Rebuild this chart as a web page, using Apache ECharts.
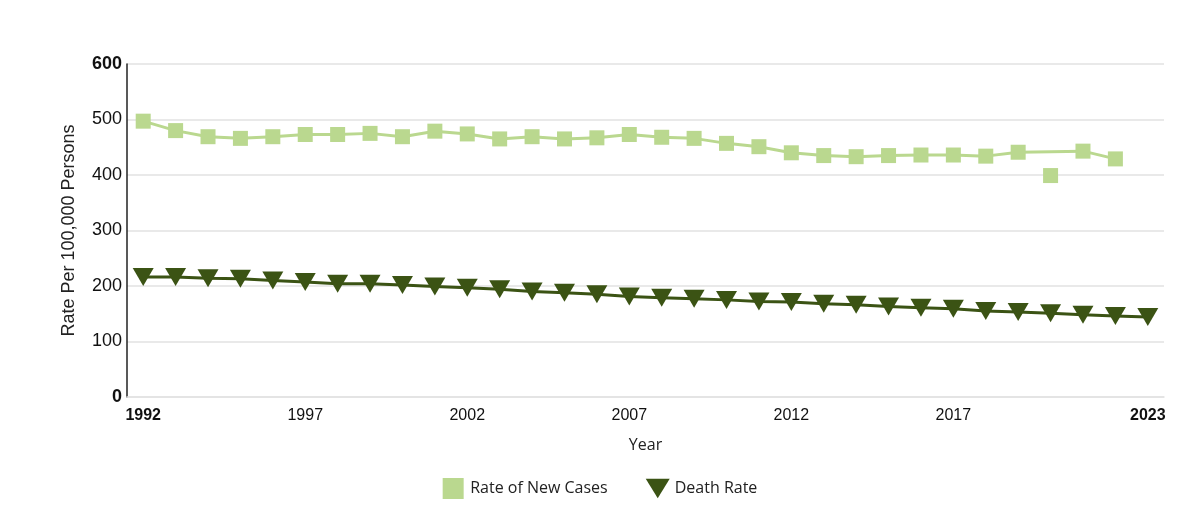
<!DOCTYPE html>
<html>
<head>
<meta charset="utf-8">
<script src="https://cdn.jsdelivr.net/npm/echarts@6/dist/echarts.min.js"></script>
<style>
  html, body { margin: 0; padding: 0; background: #fff; }
  #chart { width: 1200px; height: 521px; }
</style>
</head>
<body>
<div id="chart"></div>
<script>
var years = [];
for (var y = 1992; y <= 2023; y++) years.push(String(y));

// rate of new cases, 2020 is drawn apart (not joined by the line)
var newCases = [497, 480, 469, 466, 469, 473, 473, 475, 469, 479, 474, 465, 469, 465, 467,
                473, 468, 466, 457, 451, 440, 435, 433, 435, 436, 436, 434, 441, null, 443, 429, null];
var newCases2020 = 399;
var deathRate = [216, 216, 214, 213, 210, 207, 204, 204, 202, 199, 197, 194, 190, 188, 185,
                 181, 179, 177, 175, 172, 171, 168, 166, 163, 161, 159, 155, 153, 151, 148, 146, 144];
var yTicks = [0, 100, 200, 300, 400, 500, 600];

var lightGreen = '#bad88f';
var darkGreen = '#3b5314';
var arial = 'Liberation Sans, Arial, sans-serif';

var gap = years.map(function (yr) { return yr === '2020' ? newCases2020 : null; });

var myChart = echarts.init(document.getElementById('chart'));
var option = {
    animation: false,
    textStyle: { fontFamily: arial },
    grid: { left: 127, right: 36, top: 64, bottom: 124 },
    legend: {
        bottom: 17,
        left: 'center',
        itemGap: 38,
        itemWidth: 24,
        itemHeight: 21,
        data: [
            { name: 'Rate of New Cases', icon: 'path://M2,0 L22,0 L22,20 L2,20 Z' },
            { name: 'Death Rate', icon: 'path://M0,0 L26,0 L13,21 Z' }
        ],
        textStyle: { fontSize: 16, color: '#222', fontFamily: 'Open Sans, sans-serif' }
    },
    xAxis: {
        type: 'category',
        data: years,
        name: 'Year',
        nameLocation: 'middle',
        nameGap: 40,
        nameTextStyle: { fontSize: 16, color: '#222', fontFamily: 'Open Sans, sans-serif' },
        axisLine: { show: true, lineStyle: { color: '#e2e2e2', width: 1.5 } },
        axisTick: { show: false },
        axisLabel: {
            interval: function (i) { return (i % 5 === 0 && i < 30) || i === years.length - 1; },
            fontSize: 16,
            margin: 11,
            color: '#111',
            fontFamily: arial,
            formatter: function (v, i) {
                return (i === 0 || i === years.length - 1) ? '{b|' + v + '}' : v;
            },
            rich: { b: { fontWeight: 'bold', fontSize: 16, fontFamily: arial } }
        }
    },
    yAxis: {
        type: 'value',
        min: 0,
        max: 600,
        interval: 100,
        name: 'Rate Per 100,000 Persons',
        nameLocation: 'middle',
        nameGap: 49,
        nameTextStyle: { fontSize: 18, color: '#222', fontFamily: arial },
        axisLine: { show: true, lineStyle: { color: '#222', width: 1.5 } },
        axisTick: { show: false },
        splitLine: { lineStyle: { color: '#e2e2e2', width: 1.5 } },
        axisLabel: {
            fontSize: 18,
            color: '#111',
            margin: 5,
            fontFamily: arial,
            formatter: function (v) {
                return (v === yTicks[0] || v === yTicks[yTicks.length - 1]) ? '{b|' + v + '}' : String(v);
            },
            rich: { b: { fontWeight: 'bold', fontSize: 18, fontFamily: arial } }
        }
    },
    series: [
        {
            name: 'Rate of New Cases',
            type: 'line',
            data: newCases,
            connectNulls: true,
            symbol: 'rect',
            symbolSize: 15,
            itemStyle: { color: lightGreen },
            lineStyle: { color: lightGreen, width: 3 }
        },
        {
            name: 'Rate of New Cases',
            type: 'line',
            data: gap,
            symbol: 'rect',
            symbolSize: 15,
            showAllSymbol: true,
            itemStyle: { color: lightGreen },
            lineStyle: { width: 0 }
        },
        {
            name: 'Death Rate',
            type: 'line',
            data: deathRate,
            symbol: 'triangle',
            symbolRotate: 180,
            symbolSize: [21, 18],
            itemStyle: { color: darkGreen },
            lineStyle: { color: darkGreen, width: 3 }
        }
    ]
};
myChart.setOption(option);
</script>
</body>
</html>
